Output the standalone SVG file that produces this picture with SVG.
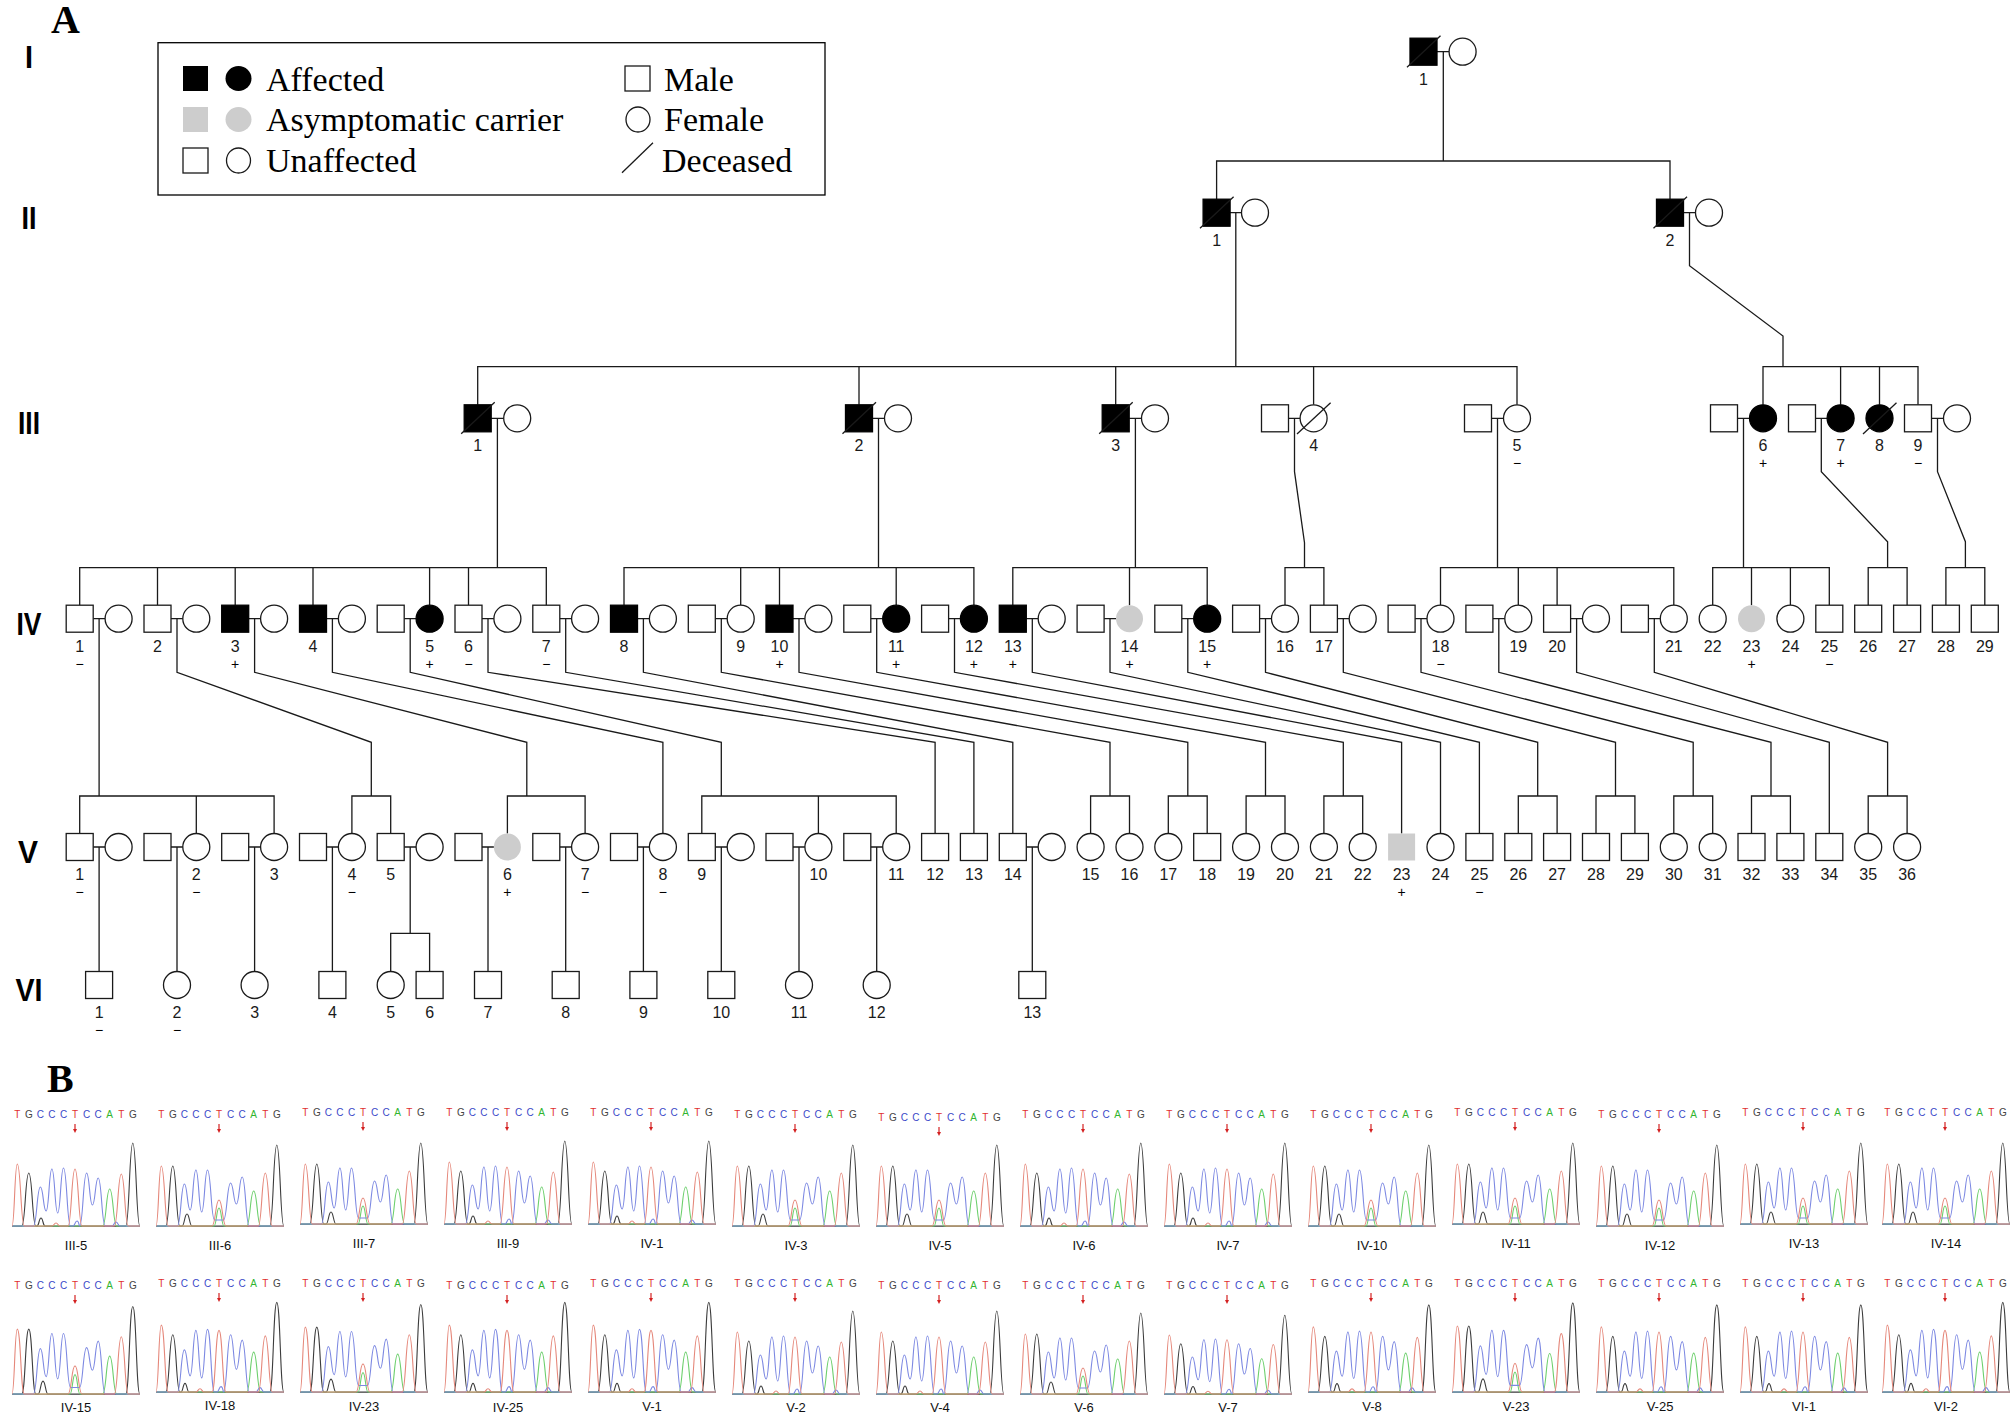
<svg xmlns="http://www.w3.org/2000/svg" width="2013" height="1421" viewBox="0 0 2013 1421">
<style>
.s{fill:#fff;stroke:#1a1a1a;stroke-width:1.3}
.f{fill:#000;stroke:#000;stroke-width:1.3}
.g{fill:#cdcdcd;stroke:none}
.l{fill:none;stroke:#1a1a1a;stroke-width:1.3}
.n{font-family:"Liberation Sans",Arial,sans-serif;font-size:16px;fill:#1a1a1a;text-anchor:middle}
.p{font-family:"Liberation Sans",Arial,sans-serif;font-size:14px;fill:#000;text-anchor:middle}
.gen{font-family:"Liberation Sans",Arial,sans-serif;font-weight:bold;font-size:32px;fill:#000;text-anchor:middle}
.lg{font-family:"Liberation Serif","Times New Roman",serif;font-size:34px;fill:#000}
.pan{font-family:"Liberation Serif","Times New Roman",serif;font-weight:bold;font-size:40px;fill:#000}
.bl{font-family:"Liberation Sans",Arial,sans-serif;font-size:13px;text-anchor:middle;fill:#111}
.sq{font-family:"Liberation Sans",Arial,sans-serif;font-size:10px;text-anchor:middle}
.tr{fill:none;stroke-width:1.1}
.rd{stroke:#e5877a}.bu{stroke:#7c88e2}.gn{stroke:#6ccf6c}.bk{stroke:#3c3c3c}
</style>
<defs>
<g id="seq" class="sq"><text><tspan x="-58.7" fill="#e03030">T</tspan><tspan x="-47.2" fill="#444">G</tspan><tspan x="-35.6" fill="#3a48c8">C</tspan><tspan x="-24.1" fill="#3a48c8">C</tspan><tspan x="-12.5" fill="#3a48c8">C</tspan><tspan x="-1" fill="#e03030">T</tspan><tspan x="10.6" fill="#3a48c8">C</tspan><tspan x="22.2" fill="#3a48c8">C</tspan><tspan x="33.7" fill="#2fb52f">A</tspan><tspan x="45.3" fill="#e03030">T</tspan><tspan x="56.8" fill="#444">G</tspan></text></g>
<g id="arr"><path d="M-1 -5V2" stroke="#d42020" stroke-width="1.2"/><path d="M-3 0L-1 4L1 0Z" fill="#d42020"/></g>
<g id="chN">
<path d="M-64 0.5H64" stroke="#9a9a9a" stroke-width="1"/>
<path class="tr bk" d="M-64 0L-54.2 0C-50.7 0 -50.7 -53 -47.2 -53C-43.7 -53 -43.7 0 -40.2 0L-39 0C-37 0 -37 -8 -35 -8C-33 -8 -33 0 -31 0L49.8 0C53.3 0 53.3 -83 56.8 -83C60.3 -83 60.3 0 63.8 0L64 0"/>
<path class="tr gn" d="M-64 0L26.7 0C30.2 0 30.2 -37 33.7 -37C37.2 -37 37.2 0 40.7 0L64 0"/>
<path class="tr bu" d="M-64 0L-42.6 0C-39.1 0 -39.1 -39 -35.6 -39C-32.7 -39 -32.7 -15 -29.85 -15C-27 -15 -27 -57 -24.1 -57C-21.2 -57 -21.2 -13 -18.3 -13C-15.4 -13 -15.4 -58 -12.5 -58C-9 -58 -9 0 -5.5 0L-3 0C-1 0 -1 -5 1 -5C3 -5 3 0 3.6 0C7.1 0 7.1 -53 10.6 -53C13.5 -53 13.5 -21 16.4 -21C19.3 -21 19.3 -48 22.2 -48C25.7 -48 25.7 0 29.2 0L36 0C38 0 38 -4 40 -4C42 -4 42 0 44 0L64 0"/>
<path class="tr rd" d="M-64 0C-61.4 0 -61.4 -62 -58.7 -62C-55.2 -62 -55.2 0 -51.7 0L-24 0C-22 0 -22 -3 -20 -3C-18 -3 -18 0 -16 0L-8 0C-4.5 0 -4.5 -57 -1 -57C2.5 -57 2.5 0 6 0L38.3 0C41.8 0 41.8 -52 45.3 -52C48.8 -52 48.8 0 52.3 0L64 0"/>
</g>
<g id="chH">
<path d="M-64 0.5H64" stroke="#9a9a9a" stroke-width="1"/>
<path class="tr bk" d="M-64 0L-54.2 0C-50.7 0 -50.7 -60 -47.2 -60C-43.7 -60 -43.7 0 -40.2 0L-38 0C-35.5 0 -35.5 -12 -33 -12C-30.5 -12 -30.5 0 -28 0L49.8 0C53.3 0 53.3 -81 56.8 -81C60.3 -81 60.3 0 63.8 0L64 0"/>
<path class="tr gn" d="M-64 0L-6 0C-3.5 0 -3.5 -18 -1 -18C1.5 -18 1.5 0 4 0L26.7 0C30.2 0 30.2 -35 33.7 -35C37.2 -35 37.2 0 40.7 0L64 0"/>
<path class="tr bu" d="M-64 0L-42.6 0C-39.1 0 -39.1 -42 -35.6 -42C-32.7 -42 -32.7 -16 -29.85 -16C-27 -16 -27 -56 -24.1 -56C-21.2 -56 -21.2 -14 -18.3 -14C-15.4 -14 -15.4 -56 -12.5 -56C-9 -56 -9 -6 -5.5 -6L3.5 -6C7 -6 7 -43 10.6 -43C13.5 -43 13.5 -22 16.4 -22C19.3 -22 19.3 -49 22.2 -49C25.7 -49 25.7 0 29.2 0L64 0"/>
<path class="tr rd" d="M-64 0C-61.4 0 -61.4 -60 -58.7 -60C-55.2 -60 -55.2 0 -51.7 0L-8 0C-4.5 0 -4.5 -26 -1 -26C2.5 -26 2.5 0 6 0L38.3 0C41.8 0 41.8 -53 45.3 -53C48.8 -53 48.8 0 52.3 0L64 0"/>
</g>
</defs>
<rect width="2013" height="1421" fill="#fff"/>

<g id="panel-labels">
<text class="pan" x="51" y="33">A</text>
<text class="pan" x="47" y="1092">B</text>
</g>

<g id="legend">
<rect x="158" y="42.7" width="667" height="152.3" fill="none" stroke="#000" stroke-width="1.3"/>
<rect x="183" y="66" width="25" height="25" fill="#000"/>
<ellipse cx="238.5" cy="78.5" rx="13" ry="12.5" fill="#000"/>
<text class="lg" x="266" y="90.5">Affected</text>
<rect x="183" y="107" width="25" height="25" fill="#cdcdcd"/>
<ellipse cx="238.5" cy="119.5" rx="13" ry="12.5" fill="#cdcdcd"/>
<text class="lg" x="266" y="131">Asymptomatic carrier</text>
<rect class="s" x="183" y="148" width="25" height="25"/>
<ellipse class="s" cx="238.5" cy="160.5" rx="12" ry="12.5"/>
<text class="lg" x="266" y="171.5">Unaffected</text>
<rect class="s" x="625" y="66" width="25" height="25"/>
<text class="lg" x="664" y="90.5">Male</text>
<ellipse class="s" cx="638" cy="119.5" rx="12" ry="12.5"/>
<text class="lg" x="664" y="131">Female</text>
<line class="l" x1="622" y1="172.7" x2="653" y2="142.7"/>
<text class="lg" x="662" y="171.5">Deceased</text>
</g>

<g id="generation-labels">
<text class="gen" x="29" y="67.7" textLength="8" lengthAdjust="spacingAndGlyphs">I</text>
<text class="gen" x="29" y="228.7" textLength="15" lengthAdjust="spacingAndGlyphs">II</text>
<text class="gen" x="29" y="434.3" textLength="22" lengthAdjust="spacingAndGlyphs">III</text>
<text class="gen" x="29" y="634.7" textLength="25" lengthAdjust="spacingAndGlyphs">IV</text>
<text class="gen" x="28" y="863" textLength="20" lengthAdjust="spacingAndGlyphs">V</text>
<text class="gen" x="29" y="1001" textLength="27" lengthAdjust="spacingAndGlyphs">VI</text>
</g>

<g id="connectors">
<path class="l" d="M1437 51.7H1449.1 M1230.1 212.7H1241.5 M1683.5 212.7H1695.5 M491.2 418.3H503.7 M872.5 418.3H884.5 M1129.2 418.3H1141.5 M1288.5 418.3H1300.1 M1491.5 418.3H1503.5 M1737.5 418.3H1749.5 M1815.5 418.3H1827.1 M1931.5 418.3H1943.5"/>
<path class="l" d="M1443.3 51.7V161 M1216.6 199.2V161H1670V199.2 M1235.8 212.7V366.7 M1689.5 212.7V265.8L1783 336V366.7 M477.7 404.8V366.7H1517V404.8 M859 366.7V404.8 M1115.7 366.7V404.8 M1313.6 366.7V404.8 M1763 404.8V366.7H1918V404.8 M1840.6 366.7V404.8 M1879.5 366.7V404.8"/>
<path class="l" d="M497.4 418.3V567.7 M878.5 418.3V567.7 M1135.4 418.3V567.7 M1294.5 418.3V471.7L1304.5 542.7V567.7 M1497.5 418.3V567.7 M1743.5 418.3V567.7 M1821.3 418.3V471.7L1887.6 541.7V567.7 M1937.5 418.3V471.7L1965.4 541.7V567.7"/>
<path class="l" d="M79.7 605.2V567.7H546.3V605.2 M157.5 567.7V605.2 M235.2 567.7V605.2 M313 567.7V605.2 M429.6 567.7V605.2 M468.5 567.7V605.2 M624 605.2V567.7H973.9V605.2 M740.7 567.7V605.2 M779.5 567.7V605.2 M896.2 567.7V605.2 M1012.8 605.2V567.7H1207.2V605.2 M1129.5 567.7V605.2 M1285 605.2V567.7H1323.9V605.2 M1440.5 605.2V567.7H1673.8V605.2 M1518.3 567.7V605.2 M1557.1 567.7V605.2 M1712.7 605.2V567.7H1829.3V605.2 M1751.5 567.7V605.2 M1790.4 567.7V605.2 M1868.2 605.2V567.7H1907.1V605.2 M1945.9 605.2V567.7H1984.8V605.2"/>
<path class="l" d="M93.2 618.7H105.1 M171 618.7H182.9 M248.7 618.7H260.6 M326.5 618.7H338.4 M404.2 618.7H416.1 M482 618.7H493.9 M559.8 618.7H571.7 M637.5 618.7H649.4 M715.3 618.7H727.2 M793 618.7H804.9 M870.8 618.7H882.7 M948.6 618.7H960.5 M1026.3 618.7H1038.2 M1104.1 618.7H1116 M1181.8 618.7H1193.7 M1259.6 618.7H1271.5 M1337.4 618.7H1349.3 M1415.1 618.7H1427 M1492.9 618.7H1504.8 M1570.6 618.7H1582.5 M1648.4 618.7H1660.3"/>
<path class="l" d="M99.1 618.7V796 M177 618.7V672.3L371.3 742.3V796 M254.6 618.7V672.3L526.8 742.3V796 M332.4 618.7V672.3L662.9 742.3V833.5 M410.2 618.7V672.3L721.3 742.3V796 M488 618.7V672.3L935.1 742.3V833.5 M565.7 618.7V672.3L973.9 742.3V833.5 M643.4 618.7V672.3L1012.8 742.3V833.5 M721.3 618.7V672.3L1110 742.3V796 M799 618.7V672.3L1187.8 742.3V796 M876.7 618.7V672.3L1265.5 742.3V796 M954.5 618.7V672.3L1343.3 742.3V796 M1032.3 618.7V672.3L1401.6 742.3V833.5 M1110 618.7V672.3L1440.5 742.3V833.5 M1187.8 618.7V672.3L1479.4 742.3V833.5 M1265.5 618.7V672.3L1537.7 742.3V796 M1343.3 618.7V672.3L1615.5 742.3V796 M1421 618.7V672.3L1693.2 742.3V796 M1498.8 618.7V672.3L1771 742.3V796 M1576.6 618.7V672.3L1829.3 742.3V833.5 M1654.3 618.7V672.3L1887.6 742.3V796"/>
<path class="l" d="M79.7 833.5V796H274.1V833.5 M196.3 796V833.5 M351.9 833.5V796H390.7V833.5 M507.4 833.5V796H585.1V833.5 M701.8 833.5V796H896.2V833.5 M818.4 796V833.5 M1090.6 833.5V796H1129.5V833.5 M1168.3 833.5V796H1207.2V833.5 M1246.1 833.5V796H1285V833.5 M1323.9 833.5V796H1362.7V833.5 M1518.3 833.5V796H1557.1V833.5 M1596 833.5V796H1634.9V833.5 M1673.8 833.5V796H1712.7V833.5 M1751.5 833.5V796H1790.4V833.5 M1868.2 833.5V796H1907.1V833.5"/>
<path class="l" d="M93.2 847H105.1 M171 847H182.9 M248.7 847H260.6 M326.5 847H338.4 M404.2 847H416.1 M482 847H493.9 M559.8 847H571.7 M637.5 847H649.4 M715.3 847H727.2 M793 847H804.9 M870.8 847H882.7 M1026.3 847H1038.2"/>
<path class="l" d="M99.1 847V971.5 M177 847V971.5 M254.6 847V971.5 M332.4 847V971.5 M410.2 847V933.3 M390.7 971.5V933.3H429.6V971.5 M488 847V971.5 M565.7 847V971.5 M643.4 847V971.5 M721.3 847V971.5 M799 847V971.5 M876.7 847V971.5 M1032.3 847V971.5"/>
</g>

<g id="nodes">
<g id="I-1"><rect class="f" x="1410" y="38.2" width="27" height="27"/><line class="l" x1="1407" y1="67.2" x2="1440.5" y2="35.7"/><text class="n" x="1423.5" y="84.7">1</text></g>
<g id="I-1-spouse"><circle class="s" cx="1462.6" cy="51.7" r="13.5"/></g>
<g id="II-1"><rect class="f" x="1203.1" y="199.2" width="27" height="27"/><line class="l" x1="1200" y1="228.2" x2="1233.6" y2="196.7"/><text class="n" x="1216.6" y="245.7">1</text></g>
<g id="II-1-spouse"><circle class="s" cx="1255" cy="212.7" r="13.5"/></g>
<g id="II-2"><rect class="f" x="1656.5" y="199.2" width="27" height="27"/><line class="l" x1="1653.5" y1="228.2" x2="1687" y2="196.7"/><text class="n" x="1670" y="245.7">2</text></g>
<g id="II-2-spouse"><circle class="s" cx="1709" cy="212.7" r="13.5"/></g>

<g id="III-1"><rect class="f" x="464.2" y="404.8" width="27" height="27"/><line class="l" x1="461.2" y1="433.8" x2="494.7" y2="402.3"/><text class="n" x="477.7" y="451.3">1</text></g>
<g id="III-1-spouse"><circle class="s" cx="517.2" cy="418.3" r="13.5"/></g>
<g id="III-2"><rect class="f" x="845.5" y="404.8" width="27" height="27"/><line class="l" x1="842.5" y1="433.8" x2="876" y2="402.3"/><text class="n" x="859" y="451.3">2</text></g>
<g id="III-2-spouse"><circle class="s" cx="898" cy="418.3" r="13.5"/></g>
<g id="III-3"><rect class="f" x="1102.2" y="404.8" width="27" height="27"/><line class="l" x1="1099.2" y1="433.8" x2="1132.7" y2="402.3"/><text class="n" x="1115.7" y="451.3">3</text></g>
<g id="III-3-spouse"><circle class="s" cx="1155" cy="418.3" r="13.5"/></g>
<g id="III-4-spouse"><rect class="s" x="1261.5" y="404.8" width="27" height="27"/></g>
<g id="III-4"><circle class="s" cx="1313.6" cy="418.3" r="13.5"/><line class="l" x1="1297" y1="434" x2="1330.6" y2="402.7"/><text class="n" x="1313.6" y="451.3">4</text></g>
<g id="III-5-spouse"><rect class="s" x="1464.5" y="404.8" width="27" height="27"/></g>
<g id="III-5"><circle class="s" cx="1517" cy="418.3" r="13.5"/><text class="n" x="1517" y="451.3">5</text><text class="p" x="1517" y="468.3">−</text></g>
<g id="III-6-spouse"><rect class="s" x="1710.5" y="404.8" width="27" height="27"/></g>
<g id="III-6"><circle class="f" cx="1763" cy="418.3" r="13.5"/><text class="n" x="1763" y="451.3">6</text><text class="p" x="1763" y="468.3">+</text></g>
<g id="III-7-spouse"><rect class="s" x="1788.5" y="404.8" width="27" height="27"/></g>
<g id="III-7"><circle class="f" cx="1840.6" cy="418.3" r="13.5"/><text class="n" x="1840.6" y="451.3">7</text><text class="p" x="1840.6" y="468.3">+</text></g>
<g id="III-8"><circle class="f" cx="1879.5" cy="418.3" r="13.5"/><line class="l" x1="1863" y1="434" x2="1896.5" y2="402.7"/><text class="n" x="1879.5" y="451.3">8</text></g>
<g id="III-9"><rect class="s" x="1904.5" y="404.8" width="27" height="27"/><text class="n" x="1918" y="451.3">9</text><text class="p" x="1918" y="468.3">−</text></g>
<g id="III-9-spouse"><circle class="s" cx="1957" cy="418.3" r="13.5"/></g>

<g id="IV-1"><rect class="s" x="66.2" y="605.2" width="27" height="27"/><text class="n" x="79.7" y="651.7">1</text><text class="p" x="79.7" y="668.7">−</text></g>
<g id="IV-1-spouse"><circle class="s" cx="118.6" cy="618.7" r="13.5"/></g>
<g id="IV-2"><rect class="s" x="144" y="605.2" width="27" height="27"/><text class="n" x="157.5" y="651.7">2</text></g>
<g id="IV-2-spouse"><circle class="s" cx="196.3" cy="618.7" r="13.5"/></g>
<g id="IV-3"><rect class="f" x="221.7" y="605.2" width="27" height="27"/><text class="n" x="235.2" y="651.7">3</text><text class="p" x="235.2" y="668.7">+</text></g>
<g id="IV-3-spouse"><circle class="s" cx="274.1" cy="618.7" r="13.5"/></g>
<g id="IV-4"><rect class="f" x="299.5" y="605.2" width="27" height="27"/><text class="n" x="313" y="651.7">4</text></g>
<g id="IV-4-spouse"><circle class="s" cx="351.9" cy="618.7" r="13.5"/></g>
<g id="IV-5-spouse"><rect class="s" x="377.2" y="605.2" width="27" height="27"/></g>
<g id="IV-5"><circle class="f" cx="429.6" cy="618.7" r="13.5"/><text class="n" x="429.6" y="651.7">5</text><text class="p" x="429.6" y="668.7">+</text></g>
<g id="IV-6"><rect class="s" x="455" y="605.2" width="27" height="27"/><text class="n" x="468.5" y="651.7">6</text><text class="p" x="468.5" y="668.7">−</text></g>
<g id="IV-6-spouse"><circle class="s" cx="507.4" cy="618.7" r="13.5"/></g>
<g id="IV-7"><rect class="s" x="532.8" y="605.2" width="27" height="27"/><text class="n" x="546.3" y="651.7">7</text><text class="p" x="546.3" y="668.7">−</text></g>
<g id="IV-7-spouse"><circle class="s" cx="585.1" cy="618.7" r="13.5"/></g>
<g id="IV-8"><rect class="f" x="610.5" y="605.2" width="27" height="27"/><text class="n" x="624" y="651.7">8</text></g>
<g id="IV-8-spouse"><circle class="s" cx="662.9" cy="618.7" r="13.5"/></g>
<g id="IV-9-spouse"><rect class="s" x="688.3" y="605.2" width="27" height="27"/></g>
<g id="IV-9"><circle class="s" cx="740.7" cy="618.7" r="13.5"/><text class="n" x="740.7" y="651.7">9</text></g>
<g id="IV-10"><rect class="f" x="766" y="605.2" width="27" height="27"/><text class="n" x="779.5" y="651.7">10</text><text class="p" x="779.5" y="668.7">+</text></g>
<g id="IV-10-spouse"><circle class="s" cx="818.4" cy="618.7" r="13.5"/></g>
<g id="IV-11-spouse"><rect class="s" x="843.8" y="605.2" width="27" height="27"/></g>
<g id="IV-11"><circle class="f" cx="896.2" cy="618.7" r="13.5"/><text class="n" x="896.2" y="651.7">11</text><text class="p" x="896.2" y="668.7">+</text></g>
<g id="IV-12-spouse"><rect class="s" x="921.6" y="605.2" width="27" height="27"/></g>
<g id="IV-12"><circle class="f" cx="973.9" cy="618.7" r="13.5"/><text class="n" x="973.9" y="651.7">12</text><text class="p" x="973.9" y="668.7">+</text></g>
<g id="IV-13"><rect class="f" x="999.3" y="605.2" width="27" height="27"/><text class="n" x="1012.8" y="651.7">13</text><text class="p" x="1012.8" y="668.7">+</text></g>
<g id="IV-13-spouse"><circle class="s" cx="1051.7" cy="618.7" r="13.5"/></g>
<g id="IV-14-spouse"><rect class="s" x="1077.1" y="605.2" width="27" height="27"/></g>
<g id="IV-14"><circle class="g" cx="1129.5" cy="618.7" r="13.5"/><text class="n" x="1129.5" y="651.7">14</text><text class="p" x="1129.5" y="668.7">+</text></g>
<g id="IV-15-spouse"><rect class="s" x="1154.8" y="605.2" width="27" height="27"/></g>
<g id="IV-15"><circle class="f" cx="1207.2" cy="618.7" r="13.5"/><text class="n" x="1207.2" y="651.7">15</text><text class="p" x="1207.2" y="668.7">+</text></g>
<g id="IV-16-spouse"><rect class="s" x="1232.6" y="605.2" width="27" height="27"/></g>
<g id="IV-16"><circle class="s" cx="1285" cy="618.7" r="13.5"/><text class="n" x="1285" y="651.7">16</text></g>
<g id="IV-17"><rect class="s" x="1310.4" y="605.2" width="27" height="27"/><text class="n" x="1323.9" y="651.7">17</text></g>
<g id="IV-17-spouse"><circle class="s" cx="1362.7" cy="618.7" r="13.5"/></g>
<g id="IV-18-spouse"><rect class="s" x="1388.1" y="605.2" width="27" height="27"/></g>
<g id="IV-18"><circle class="s" cx="1440.5" cy="618.7" r="13.5"/><text class="n" x="1440.5" y="651.7">18</text><text class="p" x="1440.5" y="668.7">−</text></g>
<g id="IV-19-spouse"><rect class="s" x="1465.9" y="605.2" width="27" height="27"/></g>
<g id="IV-19"><circle class="s" cx="1518.3" cy="618.7" r="13.5"/><text class="n" x="1518.3" y="651.7">19</text></g>
<g id="IV-20"><rect class="s" x="1543.6" y="605.2" width="27" height="27"/><text class="n" x="1557.1" y="651.7">20</text></g>
<g id="IV-20-spouse"><circle class="s" cx="1596" cy="618.7" r="13.5"/></g>
<g id="IV-21-spouse"><rect class="s" x="1621.4" y="605.2" width="27" height="27"/></g>
<g id="IV-21"><circle class="s" cx="1673.8" cy="618.7" r="13.5"/><text class="n" x="1673.8" y="651.7">21</text></g>
<g id="IV-22"><circle class="s" cx="1712.7" cy="618.7" r="13.5"/><text class="n" x="1712.7" y="651.7">22</text></g>
<g id="IV-23"><circle class="g" cx="1751.5" cy="618.7" r="13.5"/><text class="n" x="1751.5" y="651.7">23</text><text class="p" x="1751.5" y="668.7">+</text></g>
<g id="IV-24"><circle class="s" cx="1790.4" cy="618.7" r="13.5"/><text class="n" x="1790.4" y="651.7">24</text></g>
<g id="IV-25"><rect class="s" x="1815.8" y="605.2" width="27" height="27"/><text class="n" x="1829.3" y="651.7">25</text><text class="p" x="1829.3" y="668.7">−</text></g>
<g id="IV-26"><rect class="s" x="1854.7" y="605.2" width="27" height="27"/><text class="n" x="1868.2" y="651.7">26</text></g>
<g id="IV-27"><rect class="s" x="1893.6" y="605.2" width="27" height="27"/><text class="n" x="1907.1" y="651.7">27</text></g>
<g id="IV-28"><rect class="s" x="1932.4" y="605.2" width="27" height="27"/><text class="n" x="1945.9" y="651.7">28</text></g>
<g id="IV-29"><rect class="s" x="1971.3" y="605.2" width="27" height="27"/><text class="n" x="1984.8" y="651.7">29</text></g>

<g id="V-1"><rect class="s" x="66.2" y="833.5" width="27" height="27"/><text class="n" x="79.7" y="880">1</text><text class="p" x="79.7" y="897">−</text></g>
<g id="V-1-spouse"><circle class="s" cx="118.6" cy="847" r="13.5"/></g>
<g id="V-2-spouse"><rect class="s" x="144" y="833.5" width="27" height="27"/></g>
<g id="V-2"><circle class="s" cx="196.3" cy="847" r="13.5"/><text class="n" x="196.3" y="880">2</text><text class="p" x="196.3" y="897">−</text></g>
<g id="V-3-spouse"><rect class="s" x="221.7" y="833.5" width="27" height="27"/></g>
<g id="V-3"><circle class="s" cx="274.1" cy="847" r="13.5"/><text class="n" x="274.1" y="880">3</text></g>
<g id="V-4-spouse"><rect class="s" x="299.5" y="833.5" width="27" height="27"/></g>
<g id="V-4"><circle class="s" cx="351.9" cy="847" r="13.5"/><text class="n" x="351.9" y="880">4</text><text class="p" x="351.9" y="897">−</text></g>
<g id="V-5"><rect class="s" x="377.2" y="833.5" width="27" height="27"/><text class="n" x="390.7" y="880">5</text></g>
<g id="V-5-spouse"><circle class="s" cx="429.6" cy="847" r="13.5"/></g>
<g id="V-6-spouse"><rect class="s" x="455" y="833.5" width="27" height="27"/></g>
<g id="V-6"><circle class="g" cx="507.4" cy="847" r="13.5"/><text class="n" x="507.4" y="880">6</text><text class="p" x="507.4" y="897">+</text></g>
<g id="V-7-spouse"><rect class="s" x="532.8" y="833.5" width="27" height="27"/></g>
<g id="V-7"><circle class="s" cx="585.1" cy="847" r="13.5"/><text class="n" x="585.1" y="880">7</text><text class="p" x="585.1" y="897">−</text></g>
<g id="V-8-spouse"><rect class="s" x="610.5" y="833.5" width="27" height="27"/></g>
<g id="V-8"><circle class="s" cx="662.9" cy="847" r="13.5"/><text class="n" x="662.9" y="880">8</text><text class="p" x="662.9" y="897">−</text></g>
<g id="V-9"><rect class="s" x="688.3" y="833.5" width="27" height="27"/><text class="n" x="701.8" y="880">9</text></g>
<g id="V-9-spouse"><circle class="s" cx="740.7" cy="847" r="13.5"/></g>
<g id="V-10-spouse"><rect class="s" x="766" y="833.5" width="27" height="27"/></g>
<g id="V-10"><circle class="s" cx="818.4" cy="847" r="13.5"/><text class="n" x="818.4" y="880">10</text></g>
<g id="V-11-spouse"><rect class="s" x="843.8" y="833.5" width="27" height="27"/></g>
<g id="V-11"><circle class="s" cx="896.2" cy="847" r="13.5"/><text class="n" x="896.2" y="880">11</text></g>
<g id="V-12"><rect class="s" x="921.6" y="833.5" width="27" height="27"/><text class="n" x="935.1" y="880">12</text></g>
<g id="V-13"><rect class="s" x="960.4" y="833.5" width="27" height="27"/><text class="n" x="973.9" y="880">13</text></g>
<g id="V-14"><rect class="s" x="999.3" y="833.5" width="27" height="27"/><text class="n" x="1012.8" y="880">14</text></g>
<g id="V-14-spouse"><circle class="s" cx="1051.7" cy="847" r="13.5"/></g>
<g id="V-15"><circle class="s" cx="1090.6" cy="847" r="13.5"/><text class="n" x="1090.6" y="880">15</text></g>
<g id="V-16"><circle class="s" cx="1129.5" cy="847" r="13.5"/><text class="n" x="1129.5" y="880">16</text></g>
<g id="V-17"><circle class="s" cx="1168.3" cy="847" r="13.5"/><text class="n" x="1168.3" y="880">17</text></g>
<g id="V-18"><rect class="s" x="1193.7" y="833.5" width="27" height="27"/><text class="n" x="1207.2" y="880">18</text></g>
<g id="V-19"><circle class="s" cx="1246.1" cy="847" r="13.5"/><text class="n" x="1246.1" y="880">19</text></g>
<g id="V-20"><circle class="s" cx="1285" cy="847" r="13.5"/><text class="n" x="1285" y="880">20</text></g>
<g id="V-21"><circle class="s" cx="1323.9" cy="847" r="13.5"/><text class="n" x="1323.9" y="880">21</text></g>
<g id="V-22"><circle class="s" cx="1362.7" cy="847" r="13.5"/><text class="n" x="1362.7" y="880">22</text></g>
<g id="V-23"><rect class="g" x="1388.1" y="833.5" width="27" height="27"/><text class="n" x="1401.6" y="880">23</text><text class="p" x="1401.6" y="897">+</text></g>
<g id="V-24"><circle class="s" cx="1440.5" cy="847" r="13.5"/><text class="n" x="1440.5" y="880">24</text></g>
<g id="V-25"><rect class="s" x="1465.9" y="833.5" width="27" height="27"/><text class="n" x="1479.4" y="880">25</text><text class="p" x="1479.4" y="897">−</text></g>
<g id="V-26"><rect class="s" x="1504.8" y="833.5" width="27" height="27"/><text class="n" x="1518.3" y="880">26</text></g>
<g id="V-27"><rect class="s" x="1543.6" y="833.5" width="27" height="27"/><text class="n" x="1557.1" y="880">27</text></g>
<g id="V-28"><rect class="s" x="1582.5" y="833.5" width="27" height="27"/><text class="n" x="1596" y="880">28</text></g>
<g id="V-29"><rect class="s" x="1621.4" y="833.5" width="27" height="27"/><text class="n" x="1634.9" y="880">29</text></g>
<g id="V-30"><circle class="s" cx="1673.8" cy="847" r="13.5"/><text class="n" x="1673.8" y="880">30</text></g>
<g id="V-31"><circle class="s" cx="1712.7" cy="847" r="13.5"/><text class="n" x="1712.7" y="880">31</text></g>
<g id="V-32"><rect class="s" x="1738" y="833.5" width="27" height="27"/><text class="n" x="1751.5" y="880">32</text></g>
<g id="V-33"><rect class="s" x="1776.9" y="833.5" width="27" height="27"/><text class="n" x="1790.4" y="880">33</text></g>
<g id="V-34"><rect class="s" x="1815.8" y="833.5" width="27" height="27"/><text class="n" x="1829.3" y="880">34</text></g>
<g id="V-35"><circle class="s" cx="1868.2" cy="847" r="13.5"/><text class="n" x="1868.2" y="880">35</text></g>
<g id="V-36"><circle class="s" cx="1907.1" cy="847" r="13.5"/><text class="n" x="1907.1" y="880">36</text></g>

<g id="VI-1"><rect class="s" x="85.6" y="971.5" width="27" height="27"/><text class="n" x="99.1" y="1018">1</text><text class="p" x="99.1" y="1035">−</text></g>
<g id="VI-2"><circle class="s" cx="177" cy="985" r="13.5"/><text class="n" x="177" y="1018">2</text><text class="p" x="177" y="1035">−</text></g>
<g id="VI-3"><circle class="s" cx="254.6" cy="985" r="13.5"/><text class="n" x="254.6" y="1018">3</text></g>
<g id="VI-4"><rect class="s" x="318.9" y="971.5" width="27" height="27"/><text class="n" x="332.4" y="1018">4</text></g>
<g id="VI-5"><circle class="s" cx="390.7" cy="985" r="13.5"/><text class="n" x="390.7" y="1018">5</text></g>
<g id="VI-6"><rect class="s" x="416.1" y="971.5" width="27" height="27"/><text class="n" x="429.6" y="1018">6</text></g>
<g id="VI-7"><rect class="s" x="474.5" y="971.5" width="27" height="27"/><text class="n" x="488" y="1018">7</text></g>
<g id="VI-8"><rect class="s" x="552.2" y="971.5" width="27" height="27"/><text class="n" x="565.7" y="1018">8</text></g>
<g id="VI-9"><rect class="s" x="629.9" y="971.5" width="27" height="27"/><text class="n" x="643.4" y="1018">9</text></g>
<g id="VI-10"><rect class="s" x="707.8" y="971.5" width="27" height="27"/><text class="n" x="721.3" y="1018">10</text></g>
<g id="VI-11"><circle class="s" cx="799" cy="985" r="13.5"/><text class="n" x="799" y="1018">11</text></g>
<g id="VI-12"><circle class="s" cx="876.7" cy="985" r="13.5"/><text class="n" x="876.7" y="1018">12</text></g>
<g id="VI-13"><rect class="s" x="1018.8" y="971.5" width="27" height="27"/><text class="n" x="1032.3" y="1018">13</text></g>
</g>

<g id="panel-B">
<g id="B-III-5" transform="translate(76 0)"><use href="#seq" y="1118"/><use href="#arr" y="1129"/><use href="#chN" y="1226"/><text class="bl" y="1250">III-5</text></g>
<g id="B-III-6" transform="translate(220 0)"><use href="#seq" y="1118"/><use href="#arr" y="1129"/><use href="#chH" y="1226"/><text class="bl" y="1250">III-6</text></g>
<g id="B-III-7" transform="translate(364 0)"><use href="#seq" y="1116"/><use href="#arr" y="1127"/><use href="#chH" y="1224"/><text class="bl" y="1248">III-7</text></g>
<g id="B-III-9" transform="translate(508 0)"><use href="#seq" y="1116"/><use href="#arr" y="1127"/><use href="#chN" y="1224"/><text class="bl" y="1248">III-9</text></g>
<g id="B-IV-1" transform="translate(652 0)"><use href="#seq" y="1116"/><use href="#arr" y="1127"/><use href="#chN" y="1224"/><text class="bl" y="1248">IV-1</text></g>
<g id="B-IV-3" transform="translate(796 0)"><use href="#seq" y="1118"/><use href="#arr" y="1129"/><use href="#chH" y="1226"/><text class="bl" y="1250">IV-3</text></g>
<g id="B-IV-5" transform="translate(940 0)"><use href="#seq" y="1121"/><use href="#arr" y="1132"/><use href="#chH" y="1226"/><text class="bl" y="1250">IV-5</text></g>
<g id="B-IV-6" transform="translate(1084 0)"><use href="#seq" y="1118"/><use href="#arr" y="1129"/><use href="#chN" y="1226"/><text class="bl" y="1250">IV-6</text></g>
<g id="B-IV-7" transform="translate(1228 0)"><use href="#seq" y="1118"/><use href="#arr" y="1129"/><use href="#chN" y="1226"/><text class="bl" y="1250">IV-7</text></g>
<g id="B-IV-10" transform="translate(1372 0)"><use href="#seq" y="1118"/><use href="#arr" y="1129"/><use href="#chH" y="1226"/><text class="bl" y="1250">IV-10</text></g>
<g id="B-IV-11" transform="translate(1516 0)"><use href="#seq" y="1116"/><use href="#arr" y="1127"/><use href="#chH" y="1224"/><text class="bl" y="1248">IV-11</text></g>
<g id="B-IV-12" transform="translate(1660 0)"><use href="#seq" y="1118"/><use href="#arr" y="1129"/><use href="#chH" y="1226"/><text class="bl" y="1250">IV-12</text></g>
<g id="B-IV-13" transform="translate(1804 0)"><use href="#seq" y="1116"/><use href="#arr" y="1127"/><use href="#chH" y="1224"/><text class="bl" y="1248">IV-13</text></g>
<g id="B-IV-14" transform="translate(1946 0)"><use href="#seq" y="1116"/><use href="#arr" y="1127"/><use href="#chH" y="1224"/><text class="bl" y="1248">IV-14</text></g>

<g id="B-IV-15" transform="translate(76 0)"><use href="#seq" y="1289"/><use href="#arr" y="1300"/><use href="#chH" transform="translate(0 1394) scale(1 1.08)"/><text class="bl" y="1412">IV-15</text></g>
<g id="B-IV-18" transform="translate(220 0)"><use href="#seq" y="1287"/><use href="#arr" y="1298"/><use href="#chN" transform="translate(0 1392) scale(1 1.08)"/><text class="bl" y="1410">IV-18</text></g>
<g id="B-IV-23" transform="translate(364 0)"><use href="#seq" y="1287"/><use href="#arr" y="1298"/><use href="#chH" transform="translate(0 1392) scale(1 1.08)"/><text class="bl" y="1411">IV-23</text></g>
<g id="B-IV-25" transform="translate(508 0)"><use href="#seq" y="1289"/><use href="#arr" y="1300"/><use href="#chN" transform="translate(0 1392) scale(1 1.08)"/><text class="bl" y="1412">IV-25</text></g>
<g id="B-V-1" transform="translate(652 0)"><use href="#seq" y="1287"/><use href="#arr" y="1298"/><use href="#chN" transform="translate(0 1392) scale(1 1.08)"/><text class="bl" y="1411">V-1</text></g>
<g id="B-V-2" transform="translate(796 0)"><use href="#seq" y="1287"/><use href="#arr" y="1298"/><use href="#chN" transform="translate(0 1394) scale(1 1.0)"/><text class="bl" y="1412">V-2</text></g>
<g id="B-V-4" transform="translate(940 0)"><use href="#seq" y="1289"/><use href="#arr" y="1300"/><use href="#chN" transform="translate(0 1394) scale(1 1.0)"/><text class="bl" y="1412">V-4</text></g>
<g id="B-V-6" transform="translate(1084 0)"><use href="#seq" y="1289"/><use href="#arr" y="1300"/><use href="#chH" transform="translate(0 1394) scale(1 1.0)"/><text class="bl" y="1412">V-6</text></g>
<g id="B-V-7" transform="translate(1228 0)"><use href="#seq" y="1289"/><use href="#arr" y="1300"/><use href="#chN" transform="translate(0 1394) scale(1 0.95)"/><text class="bl" y="1412">V-7</text></g>
<g id="B-V-8" transform="translate(1372 0)"><use href="#seq" y="1287"/><use href="#arr" y="1298"/><use href="#chN" transform="translate(0 1392) scale(1 1.05)"/><text class="bl" y="1411">V-8</text></g>
<g id="B-V-23" transform="translate(1516 0)"><use href="#seq" y="1287"/><use href="#arr" y="1298"/><use href="#chH" transform="translate(0 1392) scale(1 1.1)"/><text class="bl" y="1411">V-23</text></g>
<g id="B-V-25" transform="translate(1660 0)"><use href="#seq" y="1287"/><use href="#arr" y="1298"/><use href="#chN" transform="translate(0 1392) scale(1 1.05)"/><text class="bl" y="1411">V-25</text></g>
<g id="B-VI-1" transform="translate(1804 0)"><use href="#seq" y="1287"/><use href="#arr" y="1298"/><use href="#chN" transform="translate(0 1392) scale(1 1.05)"/><text class="bl" y="1411">VI-1</text></g>
<g id="B-VI-2" transform="translate(1946 0)"><use href="#seq" y="1287"/><use href="#arr" y="1298"/><use href="#chN" transform="translate(0 1392) scale(1 1.08)"/><text class="bl" y="1411">VI-2</text></g>
</g>
</svg>
